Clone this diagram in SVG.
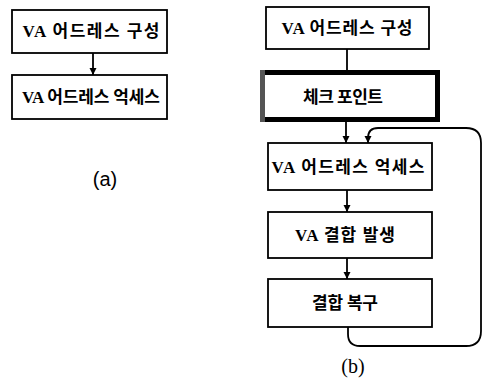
<svg xmlns="http://www.w3.org/2000/svg" width="492" height="382" viewBox="0 0 492 382">
<style>
.box{fill:#fff;stroke:#000;stroke-width:1.8}
.t{font-family:"Liberation Serif","Noto Sans CJK KR",serif;font-weight:bold;font-size:17px;text-anchor:middle;dominant-baseline:central;fill:#000}
.c{fill:none;stroke:#000;stroke-width:1.8}
.lbl{font-size:20px;text-anchor:middle;fill:#000}
</style>
<defs>
<marker id="ah" markerUnits="userSpaceOnUse" markerWidth="8" markerHeight="8" refX="7" refY="4" orient="auto">
<path d="M0,0.5 L7,4 L0,7.5 z" fill="#000"/>
</marker>
</defs>
<g id="connectors">
<path class="c" d="M93,53 V75" marker-end="url(#ah)"/>
<path class="c" d="M347,49 V70"/>
<path class="c" d="M346,122 V143" marker-end="url(#ah)"/>
<path class="c" d="M347,190 V212" marker-end="url(#ah)"/>
<path class="c" d="M347,258 V279" marker-end="url(#ah)"/>
<path class="c" d="M348,327 V334 Q348,346 360,346 H466 Q481,346 481,331 V143 Q481,128 466,128 H378 Q368,128 368,138 V143" marker-end="url(#ah)"/>
</g>
<g id="a1"><rect class="box" x="12" y="10" width="155" height="43"/><text class="t" x="91" y="31" textLength="137" lengthAdjust="spacing">VA 어드레스 구성</text></g>
<g id="a2"><rect class="box" x="12" y="75" width="155" height="44"/><text class="t" x="91" y="97" textLength="138" lengthAdjust="spacing">VA 어드레스 억세스</text></g>
<text id="label-a" class="lbl" x="105" y="186" font-family="Liberation Sans, sans-serif">(a)</text>
<g id="b1"><rect class="box" x="266" y="7" width="163" height="42"/><text class="t" x="347" y="28" textLength="131" lengthAdjust="spacing">VA 어드레스 구성</text></g>
<g id="b2"><rect x="262.5" y="72.5" width="175" height="47" fill="#fff" stroke="#000" stroke-width="5"/><rect x="260" y="70" width="5" height="52" fill="#555"/><text class="t" x="343" y="97" textLength="80" lengthAdjust="spacing">체크 포인트</text></g>
<g id="b3"><rect class="box" x="268" y="143" width="164" height="47"/><text class="t" x="348" y="167" textLength="153" lengthAdjust="spacing">VA 어드레스 억세스</text></g>
<g id="b4"><rect class="box" x="268" y="212" width="164" height="46"/><text class="t" x="345" y="235" textLength="100" lengthAdjust="spacing">VA 결합 발생</text></g>
<g id="b5"><rect class="box" x="268" y="279" width="164" height="48"/><text class="t" x="345" y="303" textLength="66" lengthAdjust="spacing">결합 복구</text></g>
<text id="label-b" class="lbl" x="353" y="373" font-family="Liberation Serif, serif">(b)</text>
</svg>
